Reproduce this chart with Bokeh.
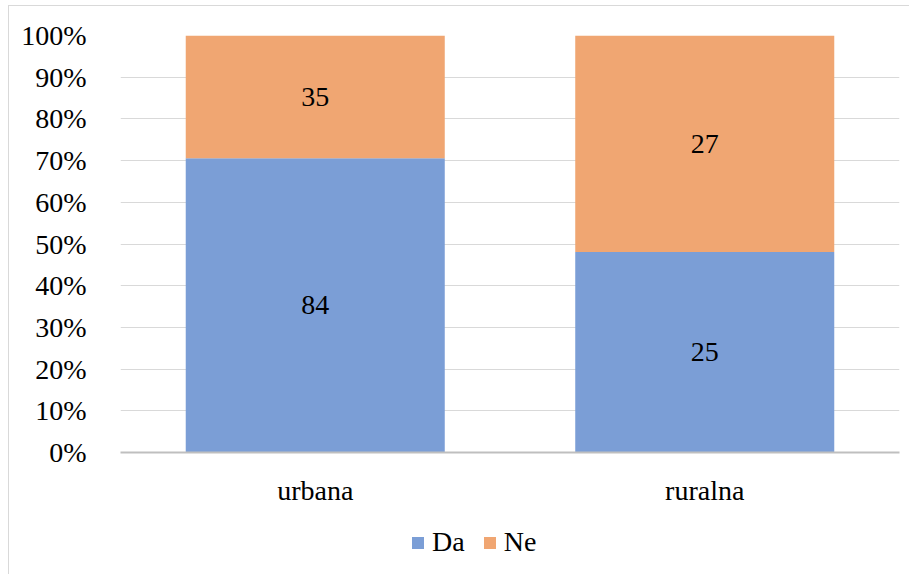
from bokeh.plotting import figure
from bokeh.layouts import column
from bokeh.models import ColumnDataSource, Legend, LegendItem, NumeralTickFormatter, FixedTicker, LabelSet
from bokeh.embed import file_html
from bokeh.resources import INLINE
from bokeh.core.properties import value

categories = ["urbana", "ruralna"]
da = [84, 25]
ne = [35, 27]
series = ["Da", "Ne"]
colors = ["#7b9ed6", "#f0a672"]
yticks = [0, 0.1, 0.2, 0.3, 0.4, 0.5, 0.6, 0.7, 0.8, 0.9, 1.0]

tot = [a + b for a, b in zip(da, ne)]
da_f = [a / t for a, t in zip(da, tot)]
ne_f = [b / t for b, t in zip(ne, tot)]
src = ColumnDataSource(dict(
    cat=categories, Da=da_f, Ne=ne_f,
    da_lbl=[str(v) for v in da], ne_lbl=[str(v) for v in ne],
    da_mid=[f / 2 for f in da_f], ne_mid=[d + n / 2 for d, n in zip(da_f, ne_f)],
))

FONT = "Liberation Serif"
FS = "28px"
p = figure(x_range=categories, y_range=(0, 1), width=900, height=516,
           output_backend="svg", toolbar_location=None,
           min_border_left=111, min_border_right=10, min_border_top=29, min_border_bottom=70)
p.outline_line_color = None

r = p.vbar_stack(series, x="cat", width=0.665, source=src, color=colors, line_color=None)

for lbl, mid in (("da_lbl", "da_mid"), ("ne_lbl", "ne_mid")):
    ls = LabelSet(x="cat", y=mid, text=lbl, source=src, text_align="center", text_baseline="middle",
                  text_font=value(FONT), text_font_size=FS, text_color="#000000")
    p.add_layout(ls)

p.yaxis.ticker = FixedTicker(ticks=yticks)
p.yaxis.formatter = NumeralTickFormatter(format="0%")
p.yaxis.axis_line_color = None
p.yaxis.major_tick_line_color = None
p.yaxis.minor_tick_line_color = None
p.yaxis.major_label_standoff = 28
p.yaxis.major_label_text_font = FONT
p.yaxis.major_label_text_font_size = FS
p.yaxis.major_label_text_color = "#000000"

p.xaxis.axis_line_color = "#bfbfbf"
p.xaxis.axis_line_width = 2
p.xaxis.major_tick_line_color = None
p.xaxis.minor_tick_line_color = None
p.xaxis.major_label_standoff = 16
p.xaxis.major_label_text_font = FONT
p.xaxis.major_label_text_font_size = FS
p.xaxis.major_label_text_color = "#000000"

p.xgrid.grid_line_color = None
p.ygrid.grid_line_color = "#d9d9d9"
p.ygrid.grid_line_width = 1

# legend in a small companion figure (frames are aligned by the column)
lf = figure(width=900, height=52, output_backend="svg", toolbar_location=None,
            x_range=(0, 1), y_range=(0, 1), min_border=0)
lf.axis.visible = False
lf.grid.grid_line_color = None
lf.outline_line_color = None
proxy = ColumnDataSource(dict(x=[5], top=[0]))
lr = [lf.vbar(x="x", top="top", width=0.1, source=proxy, color=c, line_color=None) for c in colors]
legend = Legend(items=[LegendItem(label=s, renderers=[rr]) for s, rr in zip(series, lr)],
                orientation="horizontal", location=(290, 16),
                label_text_font=FONT, label_text_font_size=FS, label_text_color="#000000",
                glyph_width=15, glyph_height=15, spacing=17, label_standoff=7,
                border_line_color=None, background_fill_alpha=0, margin=0, padding=0)
lf.add_layout(legend)

layout = column(p, lf, spacing=0, margin=(5, 0, 0, 8),
                styles={"border-left": "1px solid #d9d9d9", "border-top": "1px solid #d9d9d9"})

open("out.html", "w").write(file_html(layout, INLINE))
